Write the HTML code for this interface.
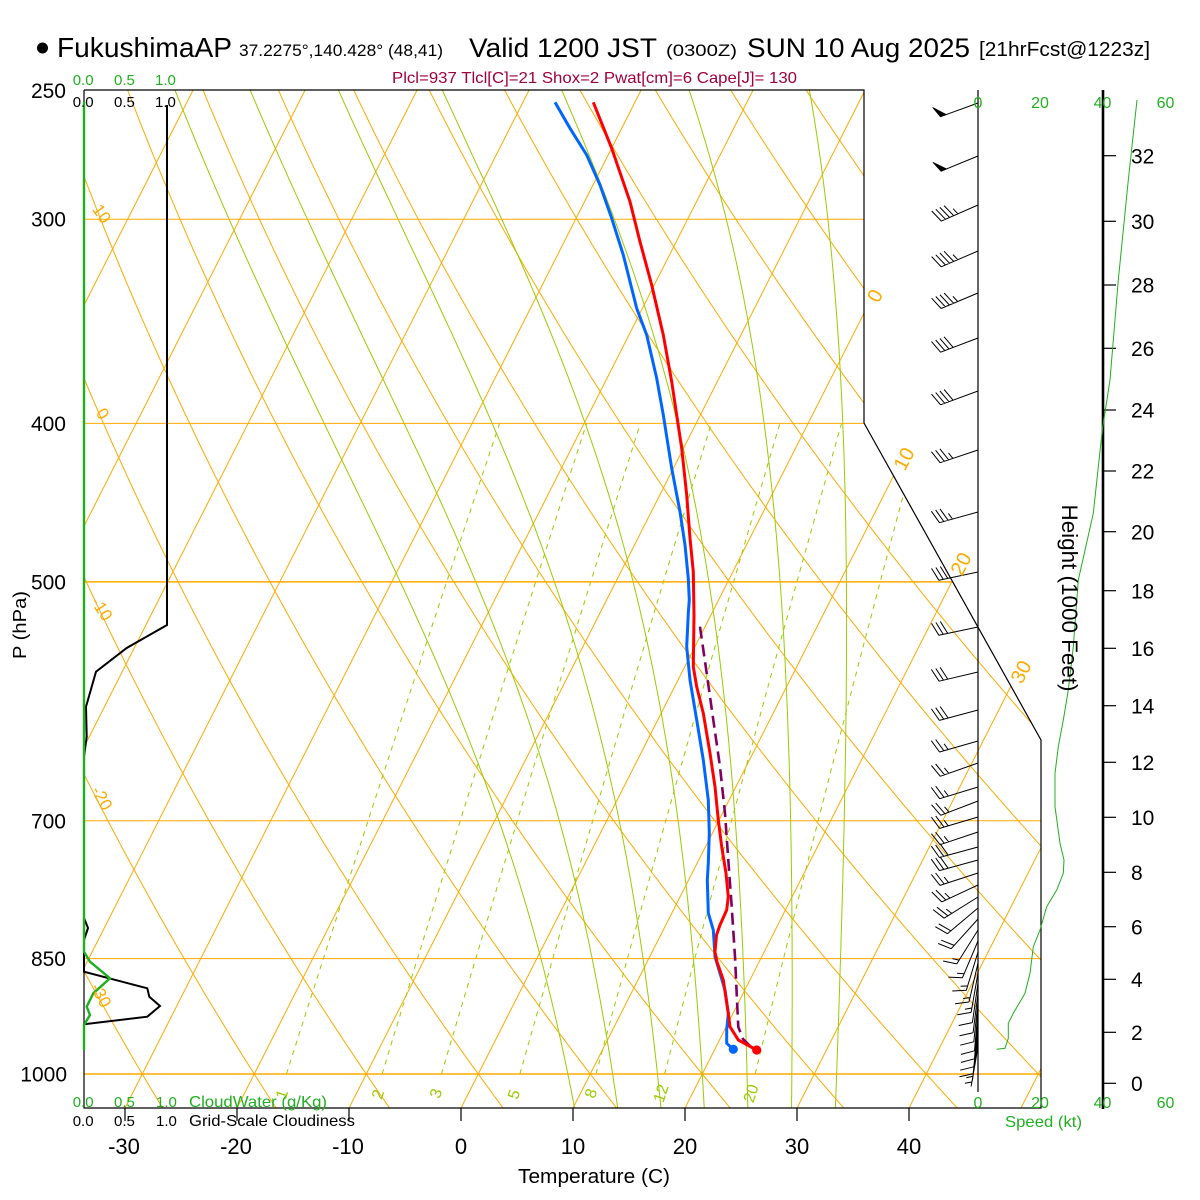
<!DOCTYPE html>
<html><head><meta charset="utf-8"><title>Skew-T FukushimaAP</title>
<style>
html,body{margin:0;padding:0;background:#fff;}
svg{display:block;font-family:"Liberation Sans",Arial,sans-serif;}
</style></head><body>
<svg id="s" width="1200" height="1200" viewBox="0 0 1200 1200" xmlns="http://www.w3.org/2000/svg">
<defs><clipPath id="cp"><polygon points="84,90 864,90 864,423 1041,740 1041,1108 84,1108"/></clipPath></defs>
<rect x="0" y="0" width="1200" height="1200" fill="#fff"/>
<g id="grid" clip-path="url(#cp)"></g>
<!-- frame -->
<g stroke="#000" stroke-width="1.2" fill="none">
<polyline points="84,90 864,90 864,423 1041,740 1041,1108 84,1108 84,90"/>
<line x1="978" y1="90" x2="978" y2="1092"/>
</g>
<line x1="1103" y1="90" x2="1103" y2="1109" stroke="#000" stroke-width="2.6"/>
<g stroke="#000" stroke-width="1.2">
<line x1="125" y1="1108" x2="125" y2="1121"/><line x1="237" y1="1108" x2="237" y2="1121"/>
<line x1="349" y1="1108" x2="349" y2="1121"/><line x1="461" y1="1108" x2="461" y2="1121"/>
<line x1="573" y1="1108" x2="573" y2="1121"/><line x1="685" y1="1108" x2="685" y2="1121"/>
<line x1="797" y1="1108" x2="797" y2="1121"/><line x1="909" y1="1108" x2="909" y2="1121"/>
<line x1="1103" y1="1083.3" x2="1116" y2="1083.3"/><line x1="1103" y1="1032.3" x2="1116" y2="1032.3"/>
<line x1="1103" y1="979.3" x2="1116" y2="979.3"/><line x1="1103" y1="926.7" x2="1116" y2="926.7"/>
<line x1="1103" y1="872.3" x2="1116" y2="872.3"/><line x1="1103" y1="817.3" x2="1116" y2="817.3"/>
<line x1="1103" y1="762.3" x2="1116" y2="762.3"/><line x1="1103" y1="705.7" x2="1116" y2="705.7"/>
<line x1="1103" y1="648.3" x2="1116" y2="648.3"/><line x1="1103" y1="590.7" x2="1116" y2="590.7"/>
<line x1="1103" y1="531.7" x2="1116" y2="531.7"/><line x1="1103" y1="471" x2="1116" y2="471"/>
<line x1="1103" y1="410" x2="1116" y2="410"/><line x1="1103" y1="348.3" x2="1116" y2="348.3"/>
<line x1="1103" y1="285" x2="1116" y2="285"/><line x1="1103" y1="221.3" x2="1116" y2="221.3"/>
<line x1="1103" y1="155.7" x2="1116" y2="155.7"/>
</g>
<!-- cloud panel -->
<polyline points="167,105 167,625 126.7,648 96,671.7 86,706.7 86.7,736.7 84,756.7 84,918 88,928 84,940 84,971.7 147.3,988.3 149.3,996.7 160,1006 147.3,1016.7 84,1024.3 84,1050" fill="none" stroke="#000" stroke-width="2"/>
<polyline points="84,102 84,951.7 90,961.7 110,978.3 93.3,993.3 86.7,1006.7 90,1015 84,1025 84,1050" fill="none" stroke="#1fb01f" stroke-width="2.4"/>
<!-- speed curve -->
<polyline points="1137,100 1128.3,180 1118.3,280 1110,380 1102.3,430 1093.3,513.3 1078.3,580 1073.3,646.7 1068.3,690 1063.3,720 1058.3,746.7 1055,773.3 1055,806.7 1060,843.3 1064,860 1063.3,873.3 1056.7,890 1046.7,906.7 1040,930 1033.3,946.7 1030,973.3 1025,993.3 1013.3,1013.3 1008.3,1023.3 1008.3,1038.3 1005,1048.3 996.7,1049.3" fill="none" stroke="#20b020" stroke-width="1"/>
<g id="barbs"></g>
<!-- profiles -->
<polyline points="700,626.7 706.7,673.3 713.3,720 720,766.7 725,813.3 728.3,860 731.7,906.7 735,956.7 737.3,1006.7 738.3,1027 743,1039 751,1047" fill="none" stroke="#82005f" stroke-width="2.6" stroke-dasharray="12,6"/>
<polyline points="555,102.3 570,128.3 586.7,155 600,185 611.7,218.3 623.3,255 636.7,308.3 646.7,335 656.7,378.3 663.3,415 671.7,468.3 680,511.7 685,545 688.3,578.3 689.3,600 688.3,613.3 686.7,646.7 690,680 696.7,720 703.3,760 708.3,800 709.3,833.3 708.3,863.3 707.3,880 708.3,913 713.3,930 715,956.7 720,973.3 725,990 728.3,1013.3 726.7,1030 726.7,1043.3 733.3,1049.3" fill="none" stroke="#0066ff" stroke-width="3" stroke-linejoin="round"/>
<polyline points="593.3,102.3 611.7,148.3 630,201.7 640,241.7 651.7,285 663.3,335 671.7,381.7 676.7,415 681.7,448.3 686.7,495 690,538.3 693.3,571.7 694,615 693.3,666.7 696.7,686.7 703.3,713.3 710,753.3 715,786.7 718.3,820 721.7,846.7 726,873.3 728.3,896.7 726.7,910 720,925 716.5,935 715,952 717,962 723.3,980 728.3,1013.3 730,1026.7 738.3,1040 756.7,1050" fill="none" stroke="#ff0000" stroke-width="3" stroke-linejoin="round"/>
<circle cx="733.3" cy="1049.3" r="4.6" fill="#0066ff"/>
<circle cx="756.7" cy="1050" r="4.6" fill="#ff0000"/>

<!-- Title -->
<circle cx="42.5" cy="48" r="5.5" fill="#000"/>
<text x="57" y="57" font-size="28" textLength="175" lengthAdjust="spacingAndGlyphs">FukushimaAP</text>
<text x="239" y="56" font-size="17" textLength="204" lengthAdjust="spacingAndGlyphs">37.2275°,140.428° (48,41)</text>
<text x="469" y="57" font-size="27" textLength="188" lengthAdjust="spacingAndGlyphs">Valid 1200 JST</text>
<text x="666" y="56" font-size="17" textLength="71" lengthAdjust="spacingAndGlyphs">(0300Z)</text>
<text x="747" y="57" font-size="27" textLength="223" lengthAdjust="spacingAndGlyphs">SUN 10 Aug 2025</text>
<text x="979" y="56" font-size="20" textLength="171" lengthAdjust="spacingAndGlyphs">[21hrFcst@1223z]</text>
<text x="392" y="83" font-size="16" fill="#a0003c" textLength="405" lengthAdjust="spacingAndGlyphs">Plcl=937 Tlcl[C]=21 Shox=2 Pwat[cm]=6 Cape[J]= 130</text>

<!-- cloud labels -->
<g font-size="15" fill="#1fb01f">
<text x="72.7" y="85">0.0</text><text x="114" y="85">0.5</text><text x="155" y="85">1.0</text>
<text x="72.7" y="1107">0.0</text><text x="114" y="1107">0.5</text><text x="156" y="1107">1.0</text>
<text x="189" y="1107" font-size="16" textLength="138" lengthAdjust="spacingAndGlyphs">CloudWater (g/Kg)</text>
</g>
<g font-size="15" fill="#000">
<text x="72.7" y="107">0.0</text><text x="114" y="107">0.5</text><text x="155" y="107">1.0</text>
<text x="72.7" y="1126">0.0</text><text x="114" y="1126">0.5</text><text x="156" y="1126">1.0</text>
<text x="189" y="1126" font-size="16" textLength="166" lengthAdjust="spacingAndGlyphs">Grid-Scale Cloudiness</text>
</g>

<!-- pressure labels -->
<g font-size="21" text-anchor="end">
<text x="66" y="98">250</text>
<text x="66" y="226.7">300</text>
<text x="66" y="430.9">400</text>
<text x="66" y="589.4">500</text>
<text x="66" y="828.3">700</text>
<text x="66" y="966.1">850</text>
<text x="67" y="1081.5">1000</text>
</g>
<text transform="translate(26,625) rotate(-90)" text-anchor="middle" font-size="18" textLength="68" lengthAdjust="spacingAndGlyphs">P (hPa)</text>

<!-- temperature labels -->
<g font-size="22" text-anchor="middle">
<text x="124" y="1154">-30</text><text x="236" y="1154">-20</text><text x="348" y="1154">-10</text>
<text x="461" y="1154">0</text><text x="573" y="1154">10</text><text x="685" y="1154">20</text>
<text x="797" y="1154">30</text><text x="909" y="1154">40</text>
</g>
<text x="594" y="1183" font-size="20" text-anchor="middle" textLength="152" lengthAdjust="spacingAndGlyphs">Temperature (C)</text>

<!-- height labels -->
<g font-size="21">
<text x="1131" y="1091">0</text><text x="1131" y="1040">2</text><text x="1131" y="987">4</text>
<text x="1131" y="934.5">6</text><text x="1131" y="880">8</text><text x="1131" y="825">10</text>
<text x="1131" y="770">12</text><text x="1131" y="713.5">14</text><text x="1131" y="656">16</text>
<text x="1131" y="598.5">18</text><text x="1131" y="539.5">20</text><text x="1131" y="478.5">22</text>
<text x="1131" y="417.5">24</text><text x="1131" y="356">26</text><text x="1131" y="292.5">28</text>
<text x="1131" y="229">30</text><text x="1131" y="163.5">32</text>
</g>
<text transform="translate(1062,598) rotate(90)" text-anchor="middle" font-size="22" textLength="187" lengthAdjust="spacingAndGlyphs">Height (1000 Feet)</text>

<!-- speed labels -->
<g font-size="16" fill="#20b020" text-anchor="middle">
<text x="978" y="108">0</text><text x="1040" y="108">20</text><text x="1102.5" y="108">40</text><text x="1165.5" y="108">60</text>
<text x="978" y="1108">0</text><text x="1040" y="1108">20</text><text x="1102.5" y="1108">40</text><text x="1165.5" y="1108">60</text>
</g>
<text x="1005" y="1127" font-size="16" fill="#20b020" textLength="77" lengthAdjust="spacingAndGlyphs">Speed (kt)</text>

<!-- dry adiabat labels -->
<g font-size="17" fill="#ffaa00" text-anchor="middle">
<text transform="translate(97,217) rotate(55)">10</text>
<text transform="translate(98,417) rotate(55)">0</text>
<text transform="translate(97,612) rotate(57)">-10</text>
<text transform="translate(97,801) rotate(60)">-20</text>
<text transform="translate(96,998) rotate(62)">-30</text>
</g>
<!-- isotherm labels -->
<g font-size="20" fill="#ffaa00" text-anchor="middle">
<text transform="translate(881,299) rotate(-62)">0</text>
<text transform="translate(910,462) rotate(-62)">10</text>
<text transform="translate(967,567) rotate(-62)">20</text>
<text transform="translate(1027,675) rotate(-62)">30</text>
</g>
<!-- mixing ratio labels -->
<g font-size="16" fill="#99cc00" text-anchor="middle">
<text transform="translate(287,1096) rotate(-72)">1</text>
<text transform="translate(383,1096) rotate(-72)">2</text>
<text transform="translate(441,1095) rotate(-72)">3</text>
<text transform="translate(519,1096) rotate(-72)">5</text>
<text transform="translate(596,1095) rotate(-72)">8</text>
<text transform="translate(666,1095) rotate(-72)">12</text>
<text transform="translate(756,1095) rotate(-72)">20</text>
</g>
</svg>
<script>
(function(){
var NS="http://www.w3.org/2000/svg";
function Y(p){return 1074-710*Math.log(1000/p);}
var S=0.507;
function X(T,y){return 461+11.2*T+S*(1108-y);}
function pl(g,pts,at){var e=document.createElementNS(NS,'polyline');
 e.setAttribute('points',pts.map(function(q){return q[0].toFixed(1)+','+q[1].toFixed(1);}).join(' '));
 e.setAttribute('fill','none');for(var k in at)e.setAttribute(k,at[k]);g.appendChild(e);return e;}
var g=document.getElementById('grid');
var O='#ffaa00',G='#99cc00';
var T,p,y,pts;
// isotherms
for(T=-100;T<=60;T+=10){var y1=Y(1065),y2=Y(240);pl(g,[[X(T,y1),y1],[X(T,y2),y2]],{stroke:O,'stroke-width':1});}
// dry adiabats
for(var th=-50;th<=140;th+=10){pts=[];for(p=1065;p>=240;p-=5){T=(th+273.15)*Math.pow(p/1000,0.2857)-273.15;y=Y(p);pts.push([X(T,y),y]);}pl(g,pts,{stroke:O,'stroke-width':1});}
// moist adiabats
function es(Tc){return 6.112*Math.exp(17.67*Tc/(Tc+243.5));}
function dTdp(p,TK){var Tc=TK-273.15;var e=es(Tc);var rs=0.622*e/(p-e);var Rd=287.04,cp=1005.7,L=2.501e6,eps=0.622;
 return (Rd*TK+L*rs)/(cp+L*L*rs*eps/(Rd*TK*TK))/p;}
function integ(thw,h,pend){var TK=thw+273.15,pp=1000,out=[[pp,TK]];
 while((h<0&&pp>pend)||(h>0&&pp<pend)){var k1=dTdp(pp,TK),k2=dTdp(pp+h/2,TK+h/2*k1),k3=dTdp(pp+h/2,TK+h/2*k2),k4=dTdp(pp+h,TK+h*k3);
 TK+=h/6*(k1+2*k2+2*k3+k4);pp+=h;out.push([pp,TK]);}return out;}
[8,12,16,20,24,28,32].forEach(function(w){var up=integ(w,-5,240),dn=integ(w,5,1065).reverse();
 var all=dn.concat(up.slice(1));pts=all.map(function(q){var yy=Y(q[0]);return [X(q[1]-273.15,yy),yy];});
 pl(g,pts,{stroke:G,'stroke-width':1});});
// mixing ratio
[1,2,3,5,8,12,20].forEach(function(w){pts=[];for(p=1000;p>=400;p-=10){var e=w*p/(622+w);var l=Math.log(e/6.112);T=243.5*l/(17.67-l);y=Y(p);pts.push([X(T,y),y]);}
 pl(g,pts,{stroke:G,'stroke-width':1,'stroke-dasharray':'5,5'});});
// isobars
[300,400,500,700,850,1000].forEach(function(pp){y=Y(pp);pl(g,[[84,y],[1041,y]],{stroke:O,'stroke-width':(pp==500||pp==1000)?1.5:1});});

// wind barbs
var bg=document.getElementById('barbs');
var barbs=[[103,160,50],[156,157.6,50],[205,156.3,45],[251,156.8,45],[293,157.2,45],[338,159.2,40],[391,159.8,40],[450,161.5,35],[512,164.5,35],[572,168,30],[627,168,30],[672,166.7,30],[710,165,30],[741,164,25],[763,160.6,25],[787,163,25],[801,159,25],[817,163.4,25],[832,161.5,25],[847,164.8,30],[860,164.6,30],[873,162,25],[885,155,25],[897,148,25],[908,140,20],[919,132,20],[930,122,15],[941,113,15],[952,107,15],[963,103,15],[973,100,15],[983,98,10],[993,97,10],[1002,96,10],[1011,95,10],[1019,95,10],[1027,96,10],[1034,97,10],[1041,98,5],[1047,100,5]];
var d='',fills='';
barbs.forEach(function(b){var yy=b[0],a=b[1]*Math.PI/180,s=b[2];
 var ux=Math.cos(a),uy=Math.sin(a),ox=978,oy=yy,ex=ox+40*ux,ey=oy+40*uy;
 d+='M'+ox+','+oy+'L'+ex.toFixed(1)+','+ey.toFixed(1);
 var tr=(b[1]+70)*Math.PI/180,tx=Math.cos(tr),ty=Math.sin(tr);
 var rem=s,pos=0;
 while(rem>=50){var bx=ex-pos*ux,by=ey-pos*uy;
  fills+='M'+bx.toFixed(1)+','+by.toFixed(1)+'L'+(bx-6*ux).toFixed(1)+','+(by-6*uy).toFixed(1)+'L'+(bx+12*tx).toFixed(1)+','+(by+12*ty).toFixed(1)+'Z';
  pos+=8;rem-=50;}
 while(rem>=10){var bx2=ex-pos*ux,by2=ey-pos*uy;d+='M'+bx2.toFixed(1)+','+by2.toFixed(1)+'l'+(14*tx).toFixed(1)+','+(14*ty).toFixed(1);pos+=4.5;rem-=10;}
 if(rem>=5){if(pos==0)pos=4.5;var bx3=ex-pos*ux,by3=ey-pos*uy;d+='M'+bx3.toFixed(1)+','+by3.toFixed(1)+'l'+(7*tx).toFixed(1)+','+(7*ty).toFixed(1);}
});
var pe=document.createElementNS(NS,'path');pe.setAttribute('d',d);pe.setAttribute('stroke','#000');pe.setAttribute('stroke-width','1');pe.setAttribute('fill','none');bg.appendChild(pe);
if(fills){var pf=document.createElementNS(NS,'path');pf.setAttribute('d',fills);pf.setAttribute('fill','#000');pf.setAttribute('stroke','#000');pf.setAttribute('stroke-width','0.8');bg.appendChild(pf);}
})();
</script>
</body></html>
